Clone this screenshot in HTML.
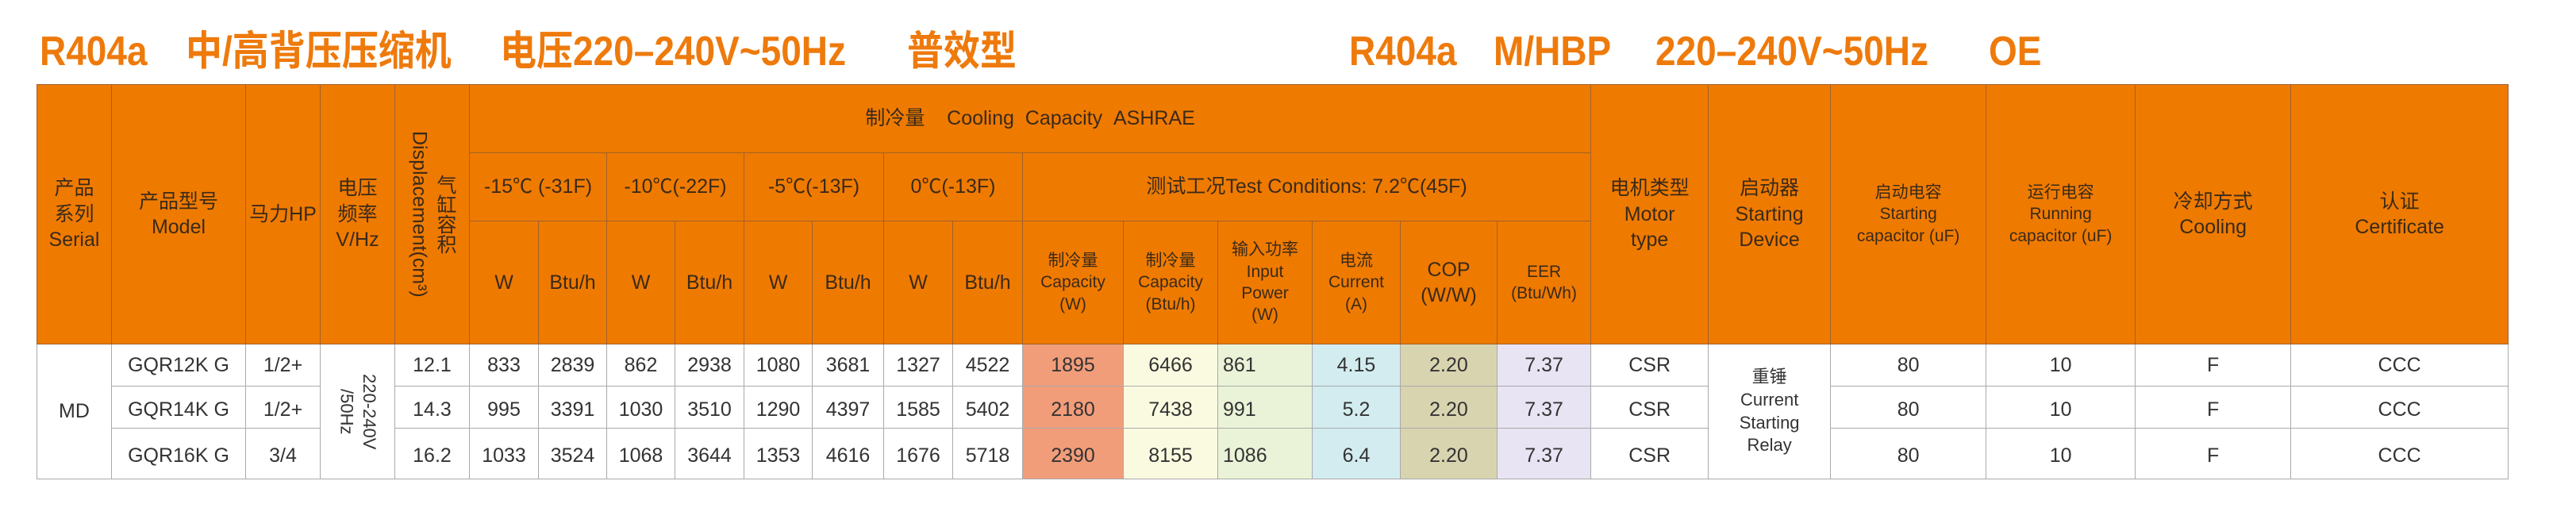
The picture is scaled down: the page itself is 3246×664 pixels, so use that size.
<!DOCTYPE html>
<html><head><meta charset="utf-8"><style>
body{margin:0;width:3246px;height:664px;background:#fff;position:relative;overflow:hidden;font-family:"Liberation Sans","Noto Sans CJK SC",sans-serif;}
.t{position:absolute;top:38px;font-size:46px;font-weight:bold;color:#ee7a0c;white-space:nowrap;line-height:52px;transform:scaleY(1.12);transform-origin:0 50%;}
table{position:absolute;left:46px;top:106px;border-collapse:collapse;table-layout:fixed;width:3114px;}
td{border:1px solid #a0612a;text-align:center;vertical-align:middle;padding:0;font-size:25px;color:#3a2a1a;line-height:1.3;overflow:hidden;}
thead td{background:#ef7a00;}
tbody td{border-color:#aaa;color:#333;font-size:25px;background:#fff;}
tbody tr.r2 td, tbody tr.r3 td{padding-top:6px}
.v{writing-mode:vertical-rl;margin:auto;text-align:center;}
.c1{background:#f29d7a!important}.c2{background:#fafae0!important}.c3{background:#eaf3d8!important;text-align:left;padding-left:6px}.c4{background:#d3ecf0!important}.c5{background:#d9d4b0!important}.c6{background:#e8e4f4!important}
.s{font-size:21px}
</style></head><body>
<div class="t" style="left:50px">R404a</div>
<div class="t" style="left:234px">中/高背压压缩机</div>
<div class="t" style="left:630px">电压220–240V~50Hz</div>
<div class="t" style="left:1143px">普效型</div>
<div class="t" style="left:1700px">R404a</div>
<div class="t" style="left:1882px">M/HBP</div>
<div class="t" style="left:2086px">220–240V~50Hz</div>
<div class="t" style="left:2506px">OE</div>
<table>
<colgroup>
<col style="width:94px"><col style="width:169px"><col style="width:94px"><col style="width:94px"><col style="width:94px">
<col style="width:87px"><col style="width:86px"><col style="width:86px"><col style="width:87px"><col style="width:86px"><col style="width:90px"><col style="width:87px"><col style="width:88px">
<col style="width:127px"><col style="width:119px"><col style="width:119px"><col style="width:111px"><col style="width:122px"><col style="width:118px">
<col style="width:148px"><col style="width:154px"><col style="width:196px"><col style="width:188px"><col style="width:196px"><col style="width:274px">
</colgroup>
<thead>
<tr style="height:86px">
<td rowspan="3">产品<br>系列<br>Serial</td>
<td rowspan="3">产品型号<br>Model</td>
<td rowspan="3">马力HP</td>
<td rowspan="3">电压<br>频率<br>V/Hz</td>
<td rowspan="3"><div class="v" style="height:300px">气缸容积<br>Displacement(cm³)</div></td>
<td colspan="14">制冷量&nbsp;&nbsp;&nbsp;&nbsp;Cooling&nbsp;&nbsp;Capacity&nbsp;&nbsp;ASHRAE</td>
<td rowspan="3">电机类型<br>Motor<br>type</td>
<td rowspan="3">启动器<br>Starting<br>Device</td>
<td rowspan="3" class="s">启动电容<br>Starting<br>capacitor (uF)</td>
<td rowspan="3" class="s">运行电容<br>Running<br>capacitor (uF)</td>
<td rowspan="3">冷却方式<br>Cooling</td>
<td rowspan="3">认证<br>Certificate</td>
</tr>
<tr style="height:86px">
<td colspan="2">-15℃ (-31F)</td><td colspan="2">-10℃(-22F)</td><td colspan="2">-5℃(-13F)</td><td colspan="2">0℃(-13F)</td>
<td colspan="6">测试工况Test Conditions: 7.2℃(45F)</td>
</tr>
<tr style="height:155px">
<td>W</td><td>Btu/h</td><td>W</td><td>Btu/h</td><td>W</td><td>Btu/h</td><td>W</td><td>Btu/h</td>
<td class="s">制冷量<br>Capacity<br>(W)</td><td class="s">制冷量<br>Capacity<br>(Btu/h)</td><td class="s">输入功率<br>Input<br>Power<br>(W)</td><td class="s">电流<br>Current<br>(A)</td><td>COP<br>(W/W)</td><td class="s">EER<br>(Btu/Wh)</td>
</tr>
</thead>
<tbody>
<tr style="height:53px">
<td rowspan="3">MD</td><td>GQR12K G</td><td>1/2+</td>
<td rowspan="3"><div class="v" style="height:150px;font-size:22px">220-240V<br>/50Hz</div></td>
<td>12.1</td><td>833</td><td>2839</td><td>862</td><td>2938</td><td>1080</td><td>3681</td><td>1327</td><td>4522</td>
<td class="c1">1895</td><td class="c2">6466</td><td class="c3">861</td><td class="c4">4.15</td><td class="c5">2.20</td><td class="c6">7.37</td>
<td>CSR</td><td rowspan="3" style="font-size:22px">重锤<br>Current<br>Starting<br>Relay</td><td>80</td><td>10</td><td>F</td><td>CCC</td>
</tr>
<tr class="r2" style="height:53px">
<td>GQR14K G</td><td>1/2+</td>
<td>14.3</td><td>995</td><td>3391</td><td>1030</td><td>3510</td><td>1290</td><td>4397</td><td>1585</td><td>5402</td>
<td class="c1">2180</td><td class="c2">7438</td><td class="c3">991</td><td class="c4">5.2</td><td class="c5">2.20</td><td class="c6">7.37</td>
<td>CSR</td><td>80</td><td>10</td><td>F</td><td>CCC</td>
</tr>
<tr class="r3" style="height:64px">
<td>GQR16K G</td><td>3/4</td>
<td>16.2</td><td>1033</td><td>3524</td><td>1068</td><td>3644</td><td>1353</td><td>4616</td><td>1676</td><td>5718</td>
<td class="c1">2390</td><td class="c2">8155</td><td class="c3">1086</td><td class="c4">6.4</td><td class="c5">2.20</td><td class="c6">7.37</td>
<td>CSR</td><td>80</td><td>10</td><td>F</td><td>CCC</td>
</tr>
</tbody>
</table>
</body></html>
